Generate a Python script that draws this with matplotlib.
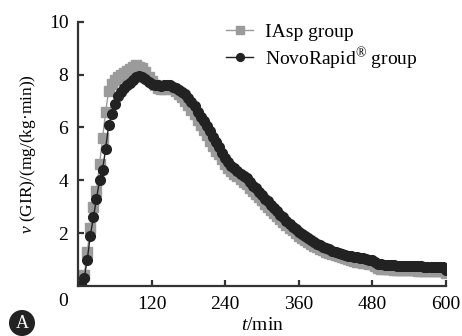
import numpy as np
import matplotlib
matplotlib.use('Agg')
import matplotlib.pyplot as plt

plt.rcParams['font.family'] = ['Liberation Serif', 'DejaVu Serif']
plt.rcParams['mathtext.fontset'] = 'custom'
plt.rcParams['mathtext.rm'] = 'Liberation Serif'
plt.rcParams['mathtext.it'] = 'Liberation Serif:italic'

# time points (min), every 5 min
t = np.arange(0, 601, 5)

novo = [0.0, 0.05, 0.3, 1.0, 1.9, 2.6, 3.3, 4.0, 4.4, 5.2,
        6.1, 6.5, 6.9, 7.2, 7.35, 7.5, 7.6, 7.7, 7.8, 7.9,
        7.95, 7.9, 7.82, 7.72, 7.65, 7.6, 7.6, 7.58, 7.6, 7.62,
        7.6, 7.55, 7.5, 7.42, 7.35, 7.25, 7.1, 6.95, 6.8, 6.6,
        6.4, 6.25, 6.05, 5.85, 5.65, 5.45, 5.25, 5.05, 4.85, 4.7,
        4.55, 4.45, 4.35, 4.25, 4.15, 4.1, 3.95, 3.8, 3.7, 3.55,
        3.45, 3.3, 3.2, 3.05, 2.95, 2.85, 2.7, 2.6, 2.45, 2.35,
        2.25, 2.15, 2.05, 1.98, 1.9, 1.82, 1.75, 1.68, 1.6, 1.55,
        1.48, 1.42, 1.38, 1.33, 1.3, 1.26, 1.22, 1.18, 1.15, 1.12,
        1.1, 1.08, 1.06, 1.04, 1.02, 1.0, 0.98, 0.9, 0.84, 0.82,
        0.8, 0.8, 0.78, 0.78, 0.77, 0.77, 0.76, 0.76, 0.75, 0.76,
        0.75, 0.74, 0.74, 0.73, 0.73, 0.72, 0.72, 0.71, 0.72, 0.7,
        0.62]

iasp = [0.0, 0.05, 0.4, 1.3, 2.2, 3.0, 3.6, 4.6, 5.6, 6.6,
        7.4, 7.65, 7.8, 7.9, 8.0, 8.05, 8.15, 8.2, 8.3, 8.35,
        8.3, 8.25, 8.1, 7.9, 7.75, 7.6, 7.5, 7.45, 7.45, 7.48,
        7.5, 7.45, 7.38, 7.28, 7.15, 7.0, 6.85, 6.65, 6.5, 6.3,
        6.1, 5.9, 5.7, 5.5, 5.3, 5.1, 5.0, 4.8, 4.62, 4.48,
        4.35, 4.25, 4.15, 4.05, 3.95, 3.85, 3.72, 3.6, 3.48, 3.35,
        3.25, 3.1, 3.0, 2.88, 2.75, 2.65, 2.52, 2.42, 2.3, 2.2,
        2.1, 2.0, 1.9, 1.82, 1.75, 1.68, 1.6, 1.53, 1.47, 1.4,
        1.35, 1.3, 1.25, 1.2, 1.16, 1.12, 1.08, 1.05, 1.02, 0.98,
        0.95, 0.92, 0.9, 0.88, 0.86, 0.84, 0.82, 0.74, 0.68, 0.66,
        0.65, 0.64, 0.63, 0.62, 0.62, 0.61, 0.6, 0.6, 0.6, 0.59,
        0.59, 0.58, 0.58, 0.58, 0.57, 0.57, 0.56, 0.56, 0.56, 0.55,
        0.5]

xTicks = [120, 240, 360, 480, 600]
yTicks = [2, 4, 6, 8, 10]

fig = plt.figure(figsize=(4.62, 3.36), dpi=100)
ax = fig.add_axes([0.169, 0.149, 0.796, 0.786])

ax.plot(t, iasp, color='#9b9b9b', marker='s', markersize=6.5, lw=1,
        label='IAsp group')
ax.plot(t, novo, color='#222222', marker='o', markersize=7, lw=1,
        label='NovoRapid$^{\u00ae}$ group')

ax.set_xlim(0, 600)
ax.set_ylim(0, 10)
ax.set_xticks(xTicks)
ax.set_yticks(yTicks)
for s in ['top', 'right']:
    ax.spines[s].set_visible(False)
for s in ['left', 'bottom']:
    ax.spines[s].set_linewidth(1.6)
    ax.spines[s].set_color('#333333')
ax.tick_params(direction='in', length=4, width=1.6, color='#333333',
               labelsize=14, pad=7)
ax.annotate('0', xy=(0, 0), xycoords='data', xytext=(-15, -7),
            textcoords='offset pixels', ha='center', va='top', fontsize=14)

ax.set_xlabel('$\\it{t}$/min', fontsize=14, labelpad=3)
ax.set_ylabel('$\\it{\\nu}$ (GIR)/(mg/(kg\u00b7min))', fontsize=12.5, labelpad=8)

ax.legend(loc='upper right', bbox_to_anchor=(0.97, 1.06), frameon=False,
          fontsize=14, handlelength=1.4, handletextpad=0.6, labelspacing=0.2,
          markerscale=0.8)

fig.text(22/462, 1-323/336, 'A', color='white', fontsize=13, ha='center', va='center',
         bbox=dict(boxstyle='circle,pad=0.25', fc='#222222', ec='none'))

fig.savefig('out.png', dpi=100)
